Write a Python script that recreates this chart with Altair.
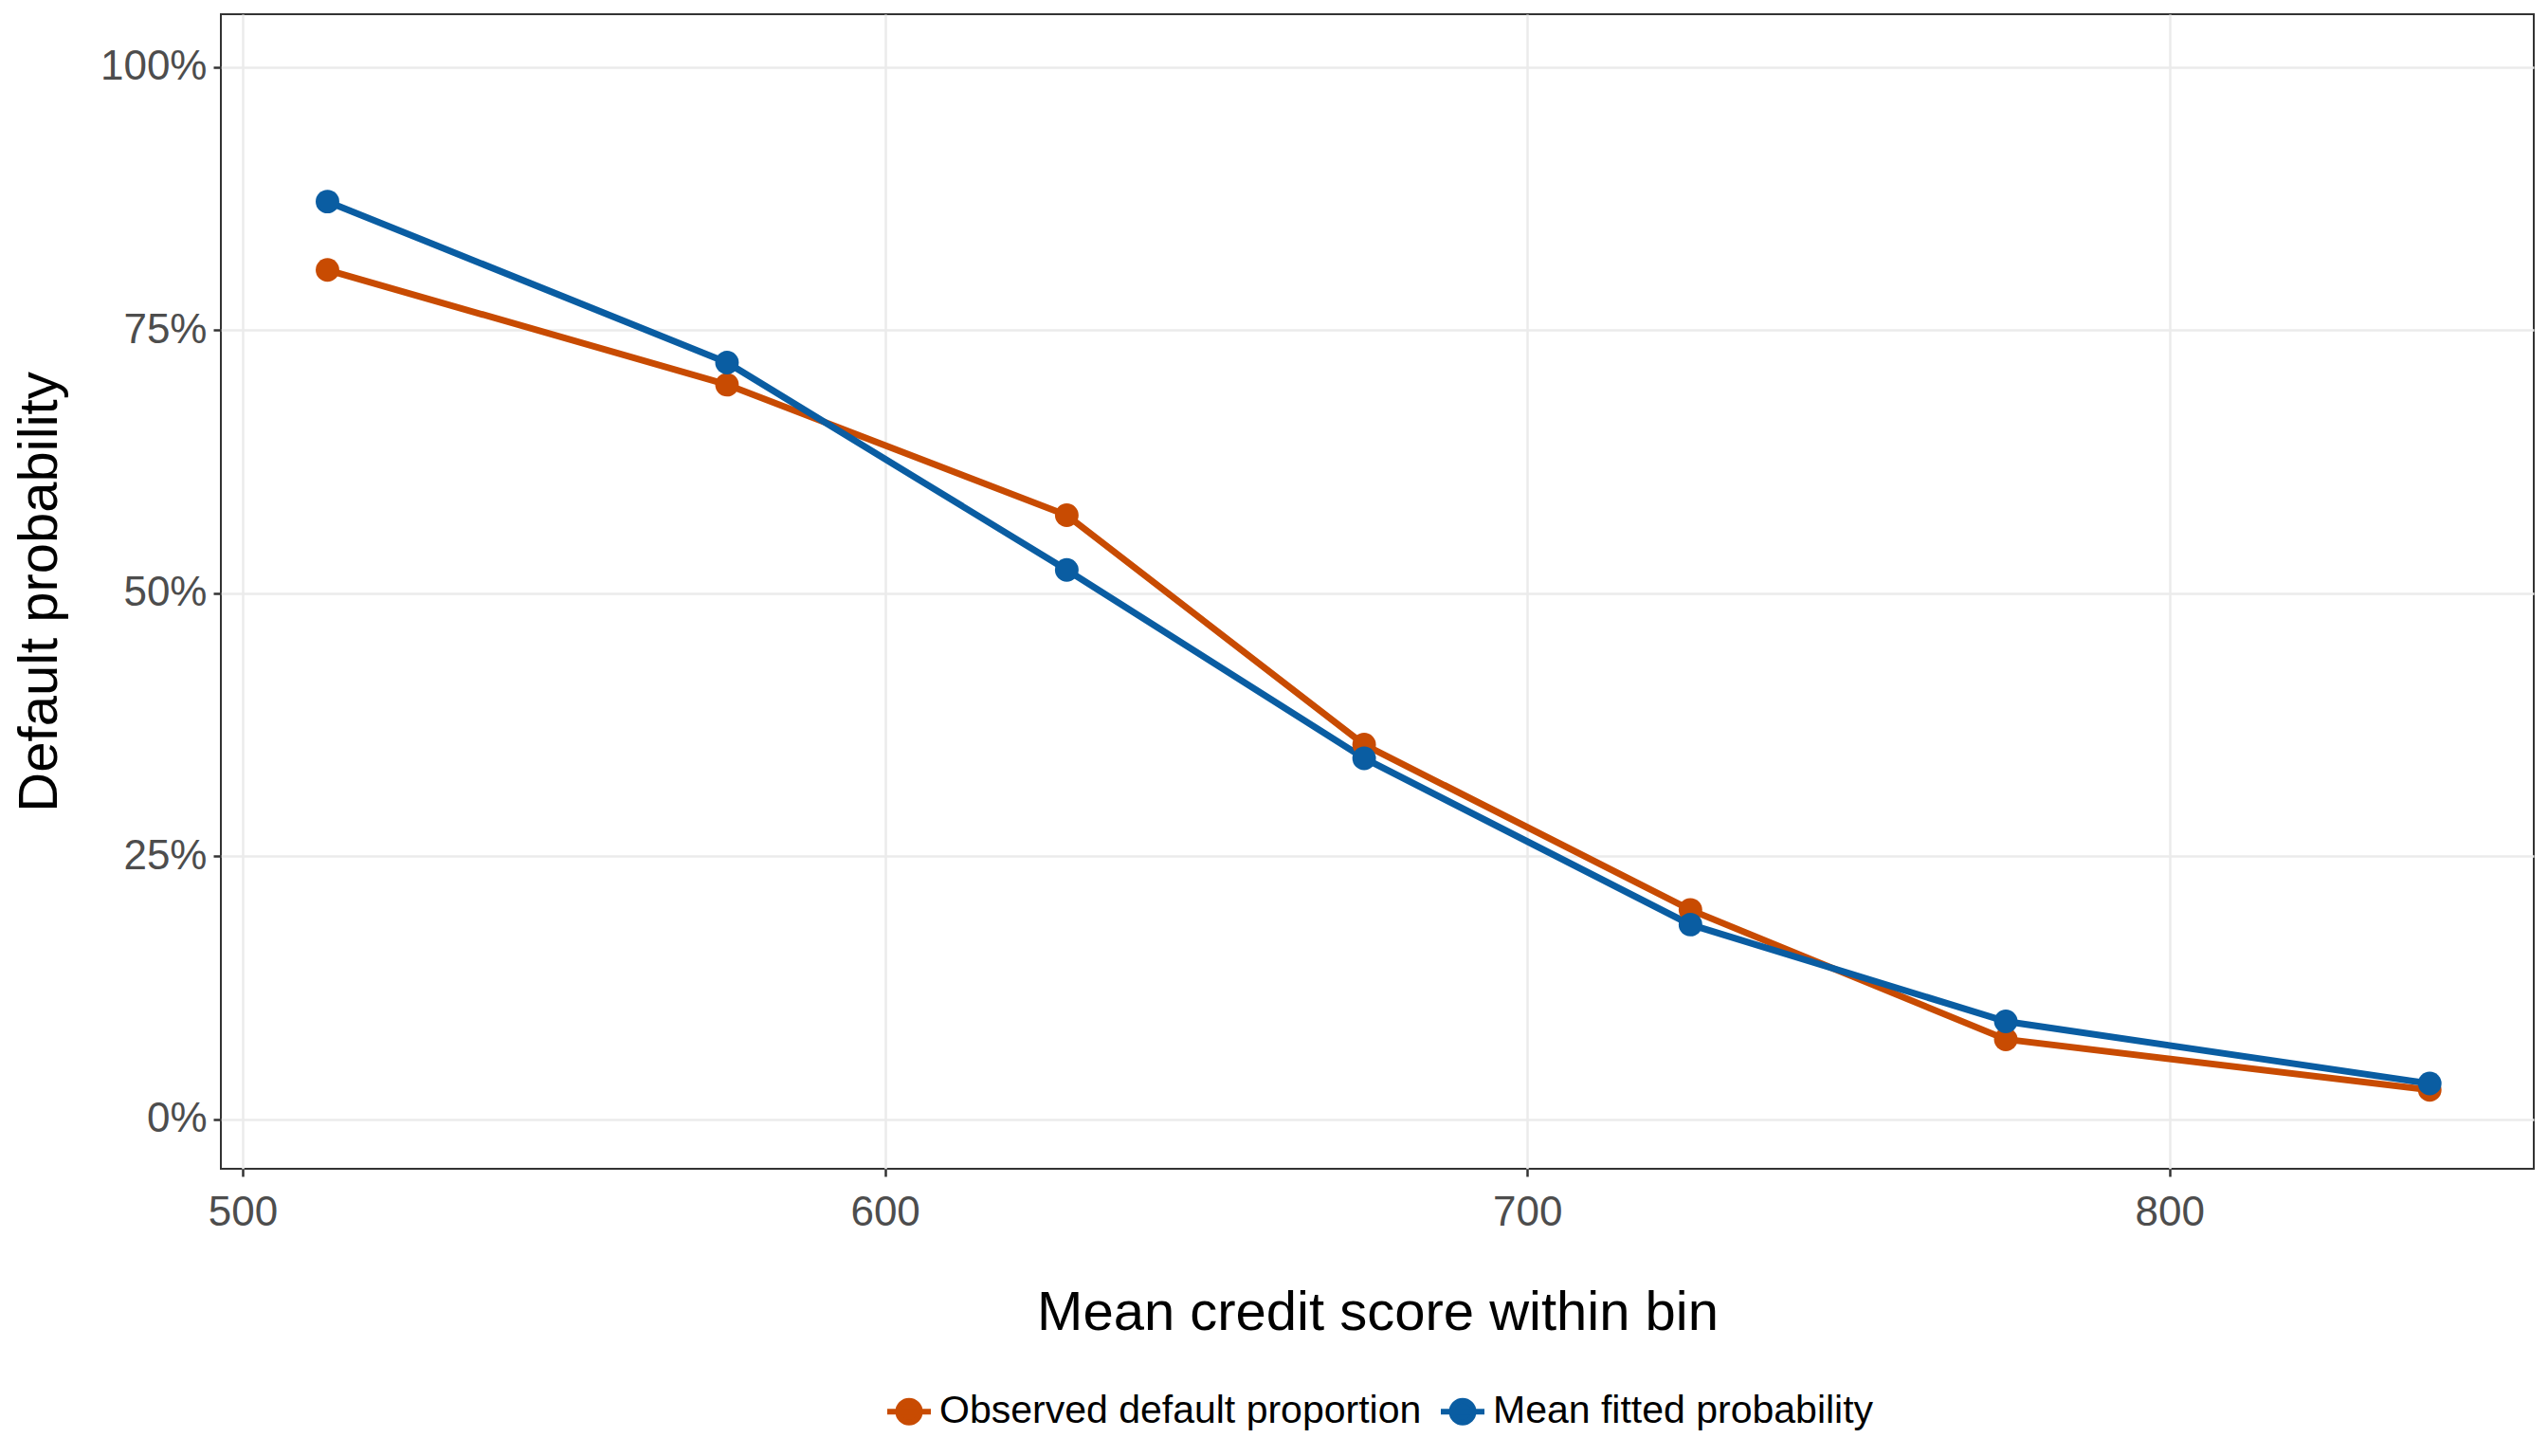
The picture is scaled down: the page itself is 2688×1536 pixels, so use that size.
import altair as alt
import pandas as pd

scores = [513.2, 575.4, 628.3, 674.6, 725.4, 774.5, 840.5]
observed = [0.807, 0.698, 0.574, 0.356, 0.199, 0.076, 0.028]
fitted = [0.872, 0.719, 0.522, 0.343, 0.185, 0.093, 0.034]
series_names = ["Observed default proportion", "Mean fitted probability"]
series_colors = ["#C84B02", "#0A5DA2"]

rows = []
for s, o, f in zip(scores, observed, fitted):
    rows.append({"score": s, "prob": o, "series": series_names[0]})
    rows.append({"score": s, "prob": f, "series": series_names[1]})
df = pd.DataFrame(rows)

FONT = "Liberation Sans"

x = alt.X("score:Q", title="Mean credit score within bin",
          scale=alt.Scale(domain=[496.6, 856.7], nice=False, zero=False),
          axis=alt.Axis(values=[500, 600, 700, 800], format="d",
                        labelPadding=16, titlePadding=55))
y = alt.Y("prob:Q", title="Default probability",
          scale=alt.Scale(domain=[-0.047, 1.05], nice=False, zero=False),
          axis=alt.Axis(values=[0, 0.25, 0.5, 0.75, 1.0], format=".0%",
                        labelPadding=7, titlePadding=34))
color = alt.Color("series:N", title=None,
                  scale=alt.Scale(domain=series_names, range=series_colors),
                  legend=alt.Legend(orient="none", direction="horizontal",
                                    legendX=700, legendY=1448,
                                    symbolType="M -1 0 L 1 0 M -0.5 0 A 0.5 0.5 0 1 0 0.5 0 A 0.5 0.5 0 1 0 -0.5 0 Z",
                                    symbolSize=2116, symbolStrokeWidth=6,
                                    labelFontSize=41, labelFont=FONT, labelColor="#000000",
                                    labelLimit=0,
                                    columnPadding=8, symbolOffset=0, labelOffset=6))

base = alt.Chart(df).encode(x=x, y=y, color=color, detail="series:N",
                            order=alt.Order("score:Q"))
lines = base.mark_line(strokeWidth=7)
points = base.mark_point(filled=True, size=620, opacity=1)

chart = alt.layer(lines, points).properties(
    width=2440, height=1218,
    padding={"left": 5, "top": 7, "right": 5, "bottom": 5},
).configure_view(
    stroke="#333333", strokeWidth=2
).configure_axis(
    labelFont=FONT, titleFont=FONT,
    labelFontSize=44, titleFontSize=58,
    labelColor="#4D4D4D", titleColor="#000000",
    titleFontWeight="normal",
    gridColor="#EBEBEB", gridWidth=2.5,
    domain=False,
    tickColor="#333333", tickWidth=2.5, tickSize=8,
).configure_legend(
    titleFont=FONT
)

chart.save("out.html", embed_options={"renderer": "svg", "actions": False})
